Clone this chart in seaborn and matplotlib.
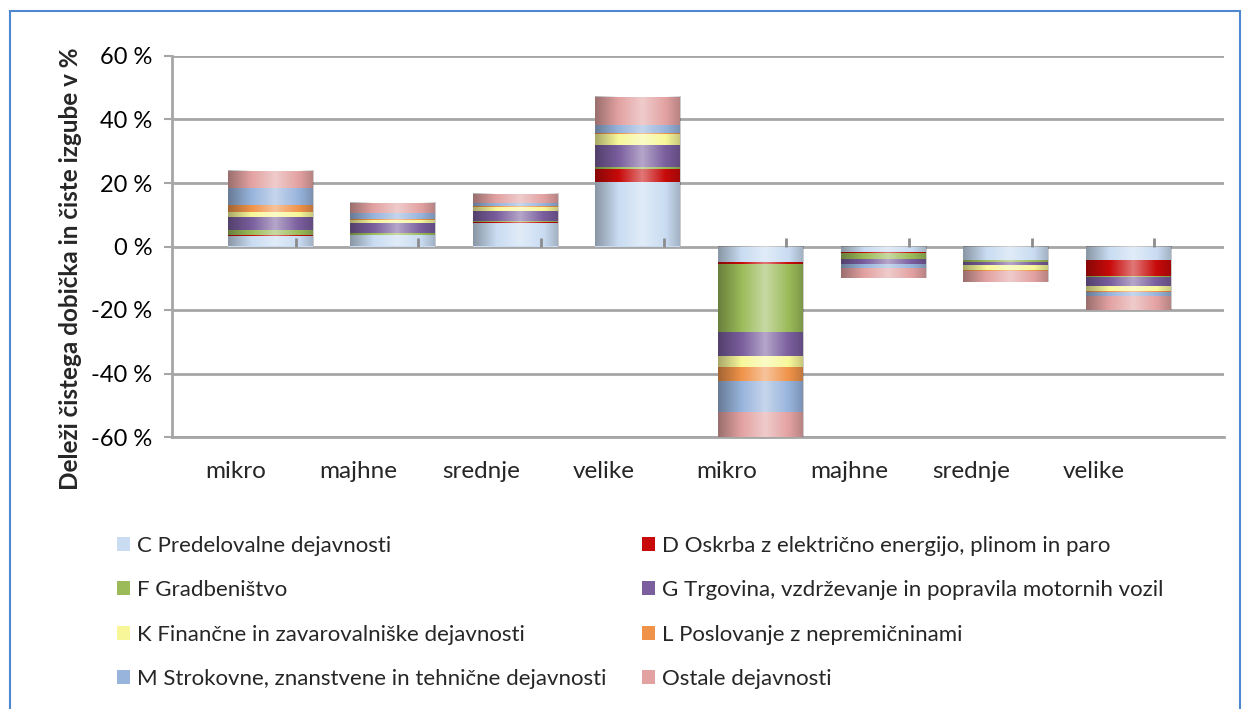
import numpy as np
import matplotlib
matplotlib.use("Agg")
import matplotlib.pyplot as plt
import seaborn as sns
from matplotlib.patches import Patch, Rectangle

# ---- data ----
categories = ["mikro", "majhne", "srednje", "velike", "mikro", "majhne", "srednje", "velike"]
series_names = [
    "C Predelovalne dejavnosti",
    "D Oskrba z električno energijo, plinom in paro",
    "F Gradbeništvo",
    "G Trgovina, vzdrževanje in popravila motornih vozil",
    "K Finančne in zavarovalniške dejavnosti",
    "L Poslovanje z nepremičninami",
    "M Strokovne, znanstvene in tehnične dejavnosti",
    "Ostale dejavnosti",
]
C_vals = [3.2, 3.5, 7.5, 20.4, -4.9, -1.6, -4.4, -4.2]
D_vals = [0.3, 0.1, 0.1, 4.0, -0.6, -0.5, 0.0, -5.0]
F_vals = [1.8, 0.7, 0.4, 0.5, -21.5, -1.8, -0.4, -0.5]
G_vals = [4.1, 3.2, 3.3, 7.1, -7.6, -1.6, -0.9, -2.6]
K_vals = [1.6, 0.8, 1.0, 3.4, -3.5, 0.0, -1.7, -1.6]
L_vals = [2.2, 0.4, 0.4, 0.2, -4.2, 0.0, -0.2, -0.5]
M_vals = [5.2, 1.7, 1.0, 2.7, -9.7, -1.4, -0.1, -1.3]
O_vals = [5.5, 3.2, 2.7, 8.7, -8.3, -2.9, -3.4, -4.2]
y_ticks = [60, 40, 20, 0, -20, -40, -60]

series_vals = [C_vals, D_vals, F_vals, G_vals, K_vals, L_vals, M_vals, O_vals]
colors = ["#C9DCF2", "#C80A0A", "#9BBB59", "#7A5E9E", "#F7F79A", "#F0934A", "#98B4DC", "#E3A2A2"]

sns.set_theme(style="white")
plt.rcParams["font.family"] = ["Lato", "DejaVu Sans"]

fig = plt.figure(figsize=(12.48, 7.09), dpi=100)
ax = fig.add_axes([172 / 1248, 1 - 437 / 709, (1224 - 172) / 1248, (437 - 56) / 709])

BAR_W = 0.694
xpos = np.arange(len(categories))
cum = np.cumsum(np.array(series_vals), axis=0)
# draw cumulative totals from outermost to innermost so each layer shows
for i in range(len(series_vals) - 1, -1, -1):
    sns.barplot(x=xpos, y=cum[i], color=colors[i], saturation=1, width=BAR_W,
                errorbar=None, ax=ax, zorder=3, linewidth=0)

# cylinder-like shading over each stacked column
t = np.linspace(0, 1, 128)
d = np.abs(t - 0.55) / 0.55
shade = np.zeros((1, t.size, 4))
white = d < 0.5
shade[0, white, :3] = 1.0
shade[0, white, 3] = 0.45 * (1 - 2 * d[white])
shade[0, ~white, :3] = 0.0
shade[0, ~white, 3] = 0.32 * np.clip(2 * d[~white] - 1, 0, 1)
for xi, tot in zip(xpos, cum[-1]):
    lo, hi = sorted([0.0, max(min(tot, 60), -60)])
    ax.imshow(shade, extent=(xi - BAR_W / 2, xi + BAR_W / 2, lo, hi),
              aspect="auto", zorder=4, interpolation="bilinear")

ax.set_xlim(-0.80, 7.78)
ax.set_ylim(-60, 60)
ax.set_yticks(y_ticks)
ax.set_yticklabels([f"{v} %" for v in y_ticks], fontsize=17, color="#000000")
ax.yaxis.grid(True, color="#A6A6A6", linewidth=2, zorder=0)
ax.set_axisbelow(True)
ax.tick_params(axis="y", length=6, width=1.5, color="#A6A6A6", pad=8, left=True)

ax.set_xticks(xpos - 0.28)
ax.set_xticklabels(categories, fontsize=17.5)
ax.tick_params(axis="x", length=0, pad=17)
ax.set_xlabel("")

for s in ["top", "right"]:
    ax.spines[s].set_visible(False)
for s in ["left", "bottom"]:
    ax.spines[s].set_color("#A6A6A6")
    ax.spines[s].set_linewidth(2)

# small category tick marks on the zero line
ax.vlines(xpos + 0.21, 0, 2.6, color="#8C8C8C", linewidth=2, zorder=5)

ax.set_ylabel("Deleži čistega dobička in čiste izgube v %", fontsize=17.5,
              fontweight="bold")
ax.yaxis.set_label_coords(-90 / 1052, 1 - (269 - 56) / 381)

# legend (two columns, row-wise order)
handles = [Patch(facecolor=c, edgecolor="none") for c in colors]
order = [0, 2, 4, 6, 1, 3, 5, 7]
fig.legend([handles[i] for i in order], [series_names[i] for i in order],
           ncol=2, loc="upper left", bbox_to_anchor=(99 / 1248, 1 - 518 / 709),
           frameon=False, fontsize=16, handlelength=0.6, handleheight=0.6,
           handletextpad=0.32, labelspacing=1.1, columnspacing=1.57,
           borderpad=0.3)

# outer blue frame
fig.patches.append(Rectangle((10 / 1248, -0.05), 1230 / 1248, 1.05 - 11 / 709,
                             transform=fig.transFigure, fill=False,
                             edgecolor="#4F86D0", linewidth=1.5))

fig.savefig("out.png", dpi=100)
